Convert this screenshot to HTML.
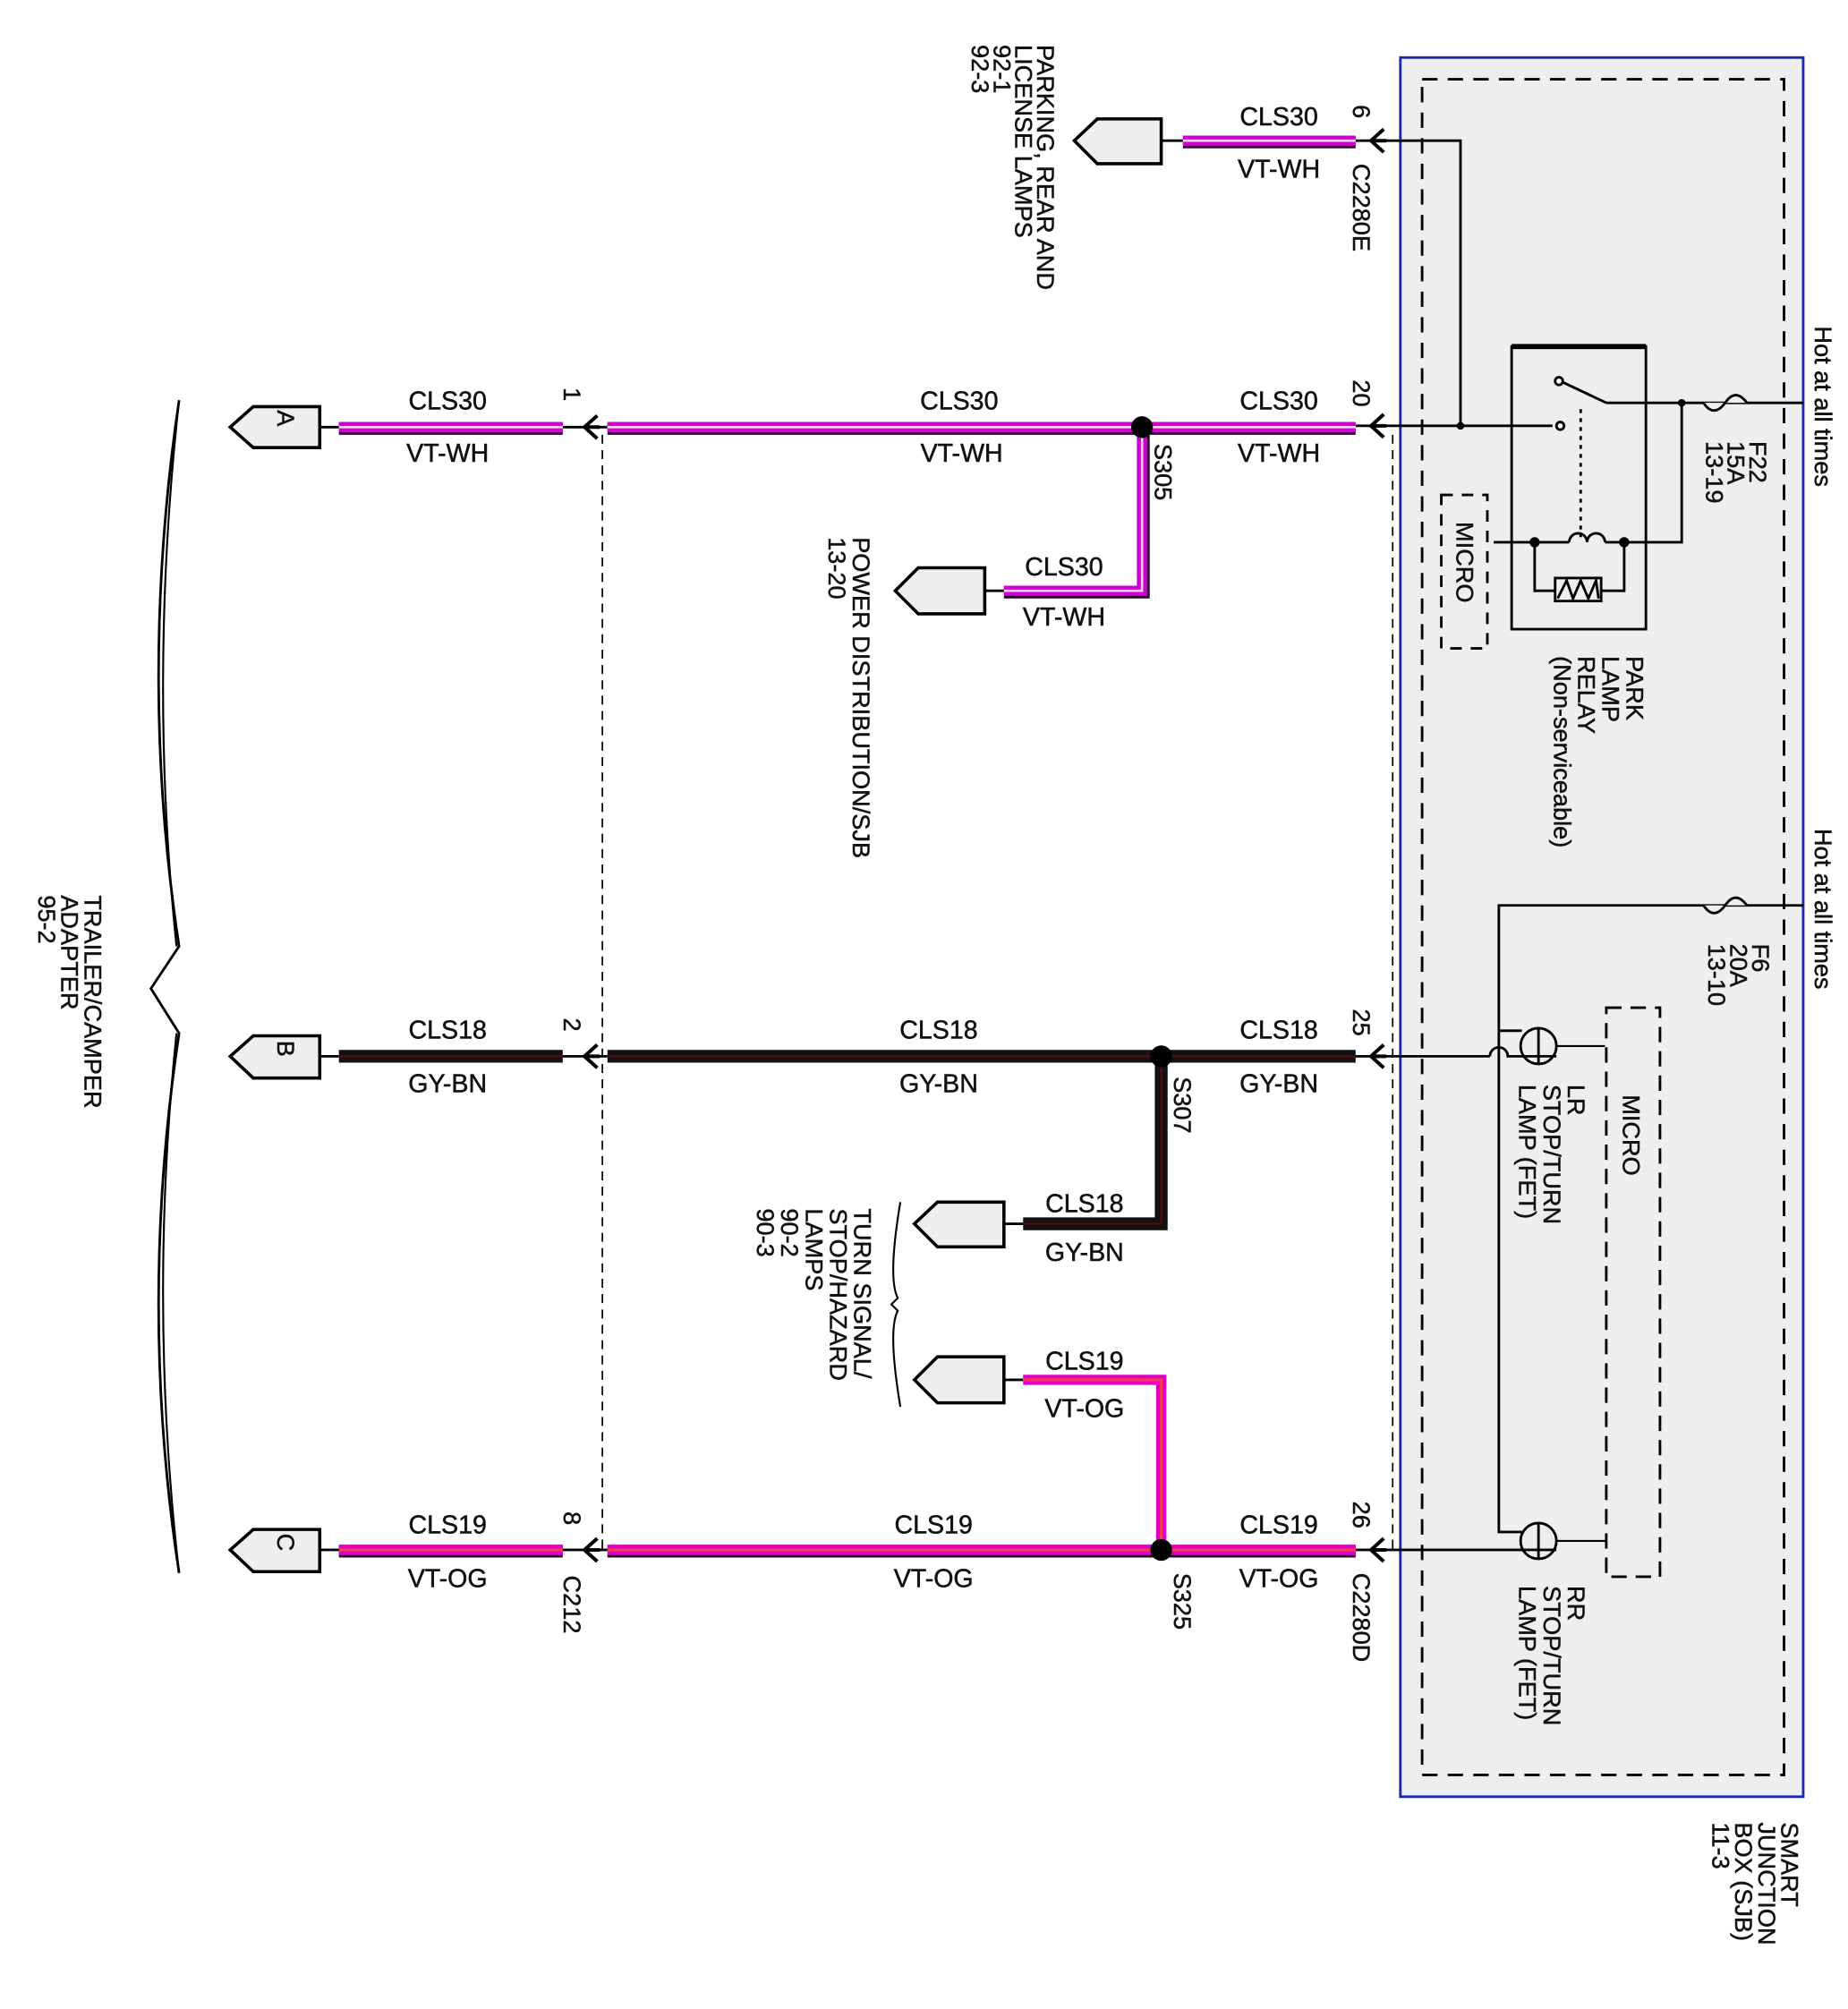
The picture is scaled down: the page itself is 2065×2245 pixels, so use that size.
<!DOCTYPE html>
<html><head><meta charset="utf-8"><style>
html,body{margin:0;padding:0;background:#fff;}
svg{display:block;}
text{font-family:"Liberation Sans",Arial,sans-serif;fill:#111;stroke:#111;stroke-width:0.35;}
</style></head><body>
<svg width="2065" height="2245" viewBox="0 0 1445 1571" xmlns="http://www.w3.org/2000/svg">
<defs>
<g id="arr"><path d="M12,-9 L2,0 L12,9 M2,0 L14,0" stroke="#000" stroke-width="2.8" fill="none"/></g>
</defs>
<rect x="1095" y="45" width="315" height="1360" fill="#eeeeee" stroke="#1a2ab0" stroke-width="2"/>
<rect x="1112" y="62" width="283" height="1326" fill="none" stroke="#000" stroke-width="2" stroke-dasharray="12,8"/>
<line x1="1089" y1="340" x2="1089" y2="1212" stroke="#000" stroke-width="1.2" stroke-dasharray="7,5"/>
<line x1="471" y1="340" x2="471" y2="1212" stroke="#000" stroke-width="1.2" stroke-dasharray="7,5"/>

<g fill="none" stroke="#000" stroke-width="2">
<path d="M140,313 Q108,530 140,740 L118,773 L140,808 Q108,1020 140,1230"/>
<path d="M140,313 Q116,530 138,740 M138,808 Q116,1020 140,1230" stroke-width="1.5"/>
</g>

<g fill="#eeeeee" stroke="#000" stroke-width="2.5">
<path d="M858,93 L908,93 L908,128 L858,128 L840,110 Z"/>
<path d="M198,318 L250,318 L250,350 L198,350 L180,334 Z"/>
<path d="M198,810 L250,810 L250,843 L198,843 L180,826 Z"/>
<path d="M198,1196 L250,1196 L250,1229 L198,1229 L180,1212 Z"/>
<path d="M718,444 L770,444 L770,480 L718,480 L700,462 Z"/>
<path d="M733,940 L785,940 L785,975 L733,975 L715,957 Z"/>
<path d="M733,1061 L785,1061 L785,1097 L733,1097 L715,1079 Z"/>
</g>
<g font-size="19">
<text transform="translate(217,327) rotate(90)" text-anchor="middle">A</text>
<text transform="translate(217,820) rotate(90)" text-anchor="middle">B</text>
<text transform="translate(217,1206) rotate(90)" text-anchor="middle">C</text>
</g>

<g stroke="#000" stroke-width="2" fill="none">
<line x1="908" y1="110" x2="925" y2="110"/>
<line x1="250" y1="334" x2="265" y2="334"/>
<line x1="250" y1="826" x2="265" y2="826"/>
<line x1="250" y1="1212" x2="265" y2="1212"/>
<line x1="770" y1="462" x2="785" y2="462"/>
<line x1="785" y1="957" x2="800" y2="957"/>
<line x1="785" y1="1079" x2="800" y2="1079"/>
<line x1="440" y1="334" x2="475" y2="334"/>
<line x1="440" y1="826" x2="475" y2="826"/>
<line x1="440" y1="1212" x2="475" y2="1212"/>
<polyline points="1060,110 1142,110 1142,333"/>
<line x1="1060" y1="333" x2="1214" y2="333"/>
<line x1="1060" y1="826" x2="1165" y2="826"/>
<path d="M1165,826 A7,7 0 0 1 1179,826 L1190,826"/>
<line x1="1060" y1="1212" x2="1190" y2="1212"/>
</g>
<g>
<use href="#arr" x="455" y="334"/><use href="#arr" x="455" y="826"/><use href="#arr" x="455" y="1212"/>
<use href="#arr" x="1070" y="110"/><use href="#arr" x="1070" y="333"/><use href="#arr" x="1070" y="826"/><use href="#arr" x="1070" y="1212"/>
</g>

<g fill="none" stroke-linejoin="miter">
<g stroke="#2a0030" stroke-width="10">
<line x1="925" y1="111" x2="1060" y2="111"/>
<line x1="265" y1="335" x2="440" y2="335"/>
<line x1="475" y1="335" x2="1060" y2="335"/>
<polyline points="894,335 894,463 785,463"/>
</g>
<g stroke="#d000d0" stroke-width="8">
<line x1="925" y1="110" x2="1060" y2="110"/>
<line x1="265" y1="334" x2="440" y2="334"/>
<line x1="475" y1="334" x2="1060" y2="334"/>
<polyline points="893,334 893,462 785,462"/>
</g>
<g stroke="#ffd8ff" stroke-width="1.8">
<line x1="925" y1="110" x2="1060" y2="110"/>
<line x1="265" y1="334" x2="440" y2="334"/>
<line x1="475" y1="334" x2="1060" y2="334"/>
<polyline points="893,334 893,462 785,462"/>
</g>
<g stroke="#111" stroke-width="10">
<line x1="265" y1="826" x2="440" y2="826"/>
<line x1="475" y1="826" x2="1060" y2="826"/>
<polyline points="908,826 908,957 800,957"/>
</g>
<g stroke="#5a0a0a" stroke-width="1.5">
<line x1="265" y1="826" x2="440" y2="826"/>
<line x1="475" y1="826" x2="1060" y2="826"/>
<polyline points="908,826 908,957 800,957"/>
</g>
<g stroke="#2a0030" stroke-width="10">
<line x1="265" y1="1213" x2="440" y2="1213"/>
<line x1="475" y1="1213" x2="1060" y2="1213"/>
</g>
<g stroke="#e000c8" stroke-width="8">
<line x1="265" y1="1212" x2="440" y2="1212"/>
<line x1="475" y1="1212" x2="1060" y2="1212"/>
<polyline points="908,1212 908,1079 800,1079"/>
</g>
<g stroke="#ff3a50" stroke-width="2.2">
<line x1="265" y1="1212" x2="440" y2="1212"/>
<line x1="475" y1="1212" x2="1060" y2="1212"/>
<polyline points="908,1212 908,1079 800,1079"/>
</g>
</g>
<g fill="#000">
<circle cx="893" cy="334" r="8.5"/><circle cx="908" cy="826" r="8.5"/><circle cx="908" cy="1212" r="8.5"/>
</g>

<g font-size="20" text-anchor="middle">
<text x="1000" y="98">CLS30</text><text x="1000" y="139">VT-WH</text>
<text x="350" y="320">CLS30</text><text x="350" y="361">VT-WH</text>
<text x="750" y="320">CLS30</text><text x="752" y="361">VT-WH</text>
<text x="1000" y="320">CLS30</text><text x="1000" y="361">VT-WH</text>
<text x="832" y="450">CLS30</text><text x="832" y="489">VT-WH</text>
<text x="350" y="812">CLS18</text><text x="350" y="854">GY-BN</text>
<text x="734" y="812">CLS18</text><text x="734" y="854">GY-BN</text>
<text x="1000" y="812">CLS18</text><text x="1000" y="854">GY-BN</text>
<text x="848" y="948">CLS18</text><text x="848" y="986">GY-BN</text>
<text x="848" y="1071">CLS19</text><text x="848" y="1108">VT-OG</text>
<text x="350" y="1199">CLS19</text><text x="350" y="1241">VT-OG</text>
<text x="730" y="1199">CLS19</text><text x="730" y="1241">VT-OG</text>
<text x="1000" y="1199">CLS19</text><text x="1000" y="1241">VT-OG</text>
</g>

<g font-size="19">
<text transform="translate(441,303) rotate(90)">1</text>
<text transform="translate(441,796) rotate(90)">2</text>
<text transform="translate(441,1182) rotate(90)">8</text>
<text transform="translate(441,1232) rotate(90)">C212</text>
<text transform="translate(1058,82) rotate(90)">6</text>
<text transform="translate(1058,128) rotate(90)">C2280E</text>
<text transform="translate(1058,297) rotate(90)">20</text>
<text transform="translate(1058,789) rotate(90)">25</text>
<text transform="translate(1058,1174) rotate(90)">26</text>
<text transform="translate(1058,1230) rotate(90)">C2280D</text>
<text transform="translate(903,347) rotate(90)">S305</text>
<text transform="translate(918,842) rotate(90)">S307</text>
<text transform="translate(918,1230) rotate(90)">S325</text>
<text transform="translate(811,35) rotate(90)"><tspan x="0" dy="0">PARKING, REAR AND</tspan><tspan x="0" dy="17">LICENSE LAMPS</tspan><tspan x="0" dy="17">92-1</tspan><tspan x="0" dy="17">92-3</tspan></text>
<text transform="translate(66,700) rotate(90)"><tspan x="0" dy="0">TRAILER/CAMPER</tspan><tspan x="0" dy="18">ADAPTER</tspan><tspan x="0" dy="18">95-2</tspan></text>
<text transform="translate(667,420) rotate(90)"><tspan x="0" dy="0">POWER DISTRIBUTION/SJB</tspan><tspan x="0" dy="19">13-20</tspan></text>
<text transform="translate(668,945) rotate(90)"><tspan x="0" dy="0">TURN SIGNAL/</tspan><tspan x="0" dy="19">STOP/HAZARD</tspan><tspan x="0" dy="19">LAMPS</tspan><tspan x="0" dy="19">90-2</tspan><tspan x="0" dy="19">90-3</tspan></text>
<text transform="translate(1272,513) rotate(90)"><tspan x="0" dy="0">PARK</tspan><tspan x="0" dy="19">LAMP</tspan><tspan x="0" dy="19">RELAY</tspan><tspan x="0" dy="19">(Non-serviceable)</tspan></text>
<text transform="translate(1368,345) rotate(90)"><tspan x="0" dy="0">F22</tspan><tspan x="0" dy="17">15A</tspan><tspan x="0" dy="17">13-19</tspan></text>
<text transform="translate(1370,738) rotate(90)"><tspan x="0" dy="0">F6</tspan><tspan x="0" dy="17">20A</tspan><tspan x="0" dy="17">13-10</tspan></text>
<text transform="translate(1419,255) rotate(90)">Hot at all times</text>
<text transform="translate(1419,648) rotate(90)">Hot at all times</text>
<text transform="translate(1139,408) rotate(90)">MICRO</text>
<text transform="translate(1269,856) rotate(90)">MICRO</text>
<text transform="translate(1226,848) rotate(90)"><tspan x="0" dy="0">LR</tspan><tspan x="0" dy="19">STOP/TURN</tspan><tspan x="0" dy="19">LAMP (FET)</tspan></text>
<text transform="translate(1226,1240) rotate(90)"><tspan x="0" dy="0">RR</tspan><tspan x="0" dy="19">STOP/TURN</tspan><tspan x="0" dy="19">LAMP (FET)</tspan></text>
<text transform="translate(1393,1425) rotate(90)"><tspan x="0" dy="0">SMART</tspan><tspan x="0" dy="18">JUNCTION</tspan><tspan x="0" dy="18">BOX (SJB)</tspan><tspan x="0" dy="18">11-3</tspan></text>
</g>

<path d="M704,940 Q694,1000 702,1015 L697,1020 L702,1025 Q694,1040 704,1100" fill="none" stroke="#000" stroke-width="1.5"/>

<g fill="none" stroke="#000" stroke-width="2">
<rect x="1182" y="271" width="105" height="221"/>
<line x1="1182" y1="271" x2="1287" y2="271" stroke-width="4"/>
<line x1="1220" y1="298" x2="1256" y2="315"/>
<polyline points="1256,315 1410,315"/>
<polyline points="1315,315 1315,424 1270,424"/>
<line x1="1168" y1="424" x2="1227" y2="424"/>
<path d="M1227,424 a7,7 0 0 1 14,0 a7,7 0 0 1 14,0"/>
<line x1="1255" y1="424" x2="1270" y2="424"/>
<polyline points="1200,424 1200,462 1270,462 1270,424"/>
<rect x="1216" y="452" width="36" height="18" fill="#eee"/>
<polyline points="1218,468 1225,454 1230,468 1236,454 1242,468 1248,454 1250,468"/>
<line x1="1236" y1="320" x2="1236" y2="420" stroke-dasharray="3,4"/>
<circle cx="1220" cy="333" r="3" fill="#fff"/>
<circle cx="1219" cy="298" r="3" fill="#fff"/>
<rect x="1127" y="387" width="36" height="120" stroke-dasharray="9,7"/>
<polyline points="1410,708 1172,708 1172,1198 1190,1198"/>
<line x1="1172" y1="806" x2="1190" y2="806"/>
<circle cx="1203" cy="818" r="14"/>
<line x1="1203" y1="804" x2="1203" y2="832"/>
<line x1="1189" y1="826" x2="1217" y2="826"/>
<circle cx="1203" cy="1205" r="14"/>
<line x1="1203" y1="1191" x2="1203" y2="1219"/>
<line x1="1189" y1="1212" x2="1217" y2="1212"/>
<line x1="1217" y1="818" x2="1255" y2="818" stroke-width="1.5"/>
<line x1="1217" y1="1205" x2="1255" y2="1205" stroke-width="1.5"/>
<rect x="1256" y="788" width="42" height="445" stroke-dasharray="12,7"/>
</g>
<g fill="#eee" stroke="#000" stroke-width="2">
<path d="M1332,315 q8,12 17,0 q8,-12 17,0"/>
<path d="M1332,708 q8,12 17,0 q8,-12 17,0"/>
</g>
<g fill="#000">
<circle cx="1142" cy="333" r="3"/><circle cx="1315" cy="315" r="3"/>
<circle cx="1200" cy="424" r="4"/><circle cx="1270" cy="424" r="4"/>
</g>
</svg>
</body></html>
